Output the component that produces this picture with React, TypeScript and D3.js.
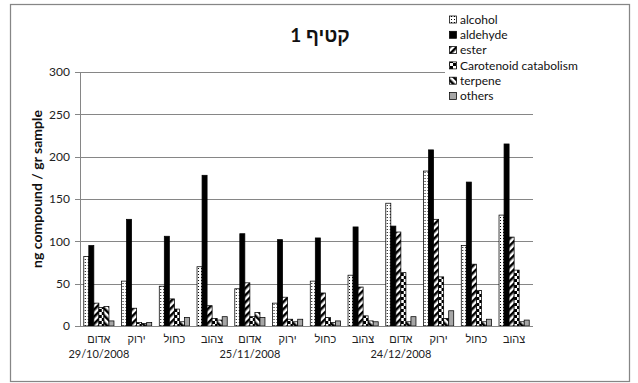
import React from "react";
import * as d3 from "d3";

// Category labels (colour names) and harvest dates
const categories = ["אדום", "ירוק", "כחול", "צהוב", "אדום", "ירוק", "כחול", "צהוב", "אדום", "ירוק", "כחול", "צהוב"];
const dateLabels = ["29/10/2008", "", "", "", "25/11/2008", "", "", "", "24/12/2008", "", "", ""];

// Series values, ng compound / gr sample
const seriesNames = ["alcohol", "aldehyde", "ester", "Carotenoid catabolism", "terpene", "others"];
const alcohol = [82, 53, 47, 70, 44, 27, 53, 60, 145, 183, 95, 131];
const aldehyde = [95, 126, 106, 178, 109, 102, 104, 117, 118, 208, 170, 215];
const ester = [27, 21, 32, 24, 51, 34, 39, 46, 111, 126, 73, 105];
const carotenoid = [22, 4, 20, 9, 11, 8, 10, 12, 63, 58, 42, 66];
const terpene = [23, 3, 5, 7, 16, 5, 4, 6, 5, 9, 5, 5];
const others = [6, 4, 10, 11, 10, 8, 6, 5, 11, 18, 8, 7];

const yTicks = [0, 50, 100, 150, 200, 250, 300];

const seriesValues = [alcohol, aldehyde, ester, carotenoid, terpene, others];
const fills = ["url(#pDots)", "#000", "url(#pUp)", "url(#pCheck)", "url(#pDown)", "#a6a6a6"];

const W = 638;
const H = 383;
const plot = { left: 80, right: 533, top: 72, bottom: 326 };
const font = "Lato, 'Liberation Sans', sans-serif";

export default function App() {
  const x0 = d3
    .scaleBand<number>()
    .domain(d3.range(categories.length))
    .range([plot.left, plot.right])
    .paddingInner(0.2)
    .paddingOuter(0.1);
  const x1 = d3
    .scaleBand<number>()
    .domain(d3.range(seriesNames.length))
    .range([0, x0.bandwidth()]);
  const y = d3.scaleLinear().domain([0, 300]).range([plot.bottom, plot.top]);

  const legendX = 449;
  const legendY0 = 19.5;
  const legendStep = 15.3;

  return (
    <div style={{ position: "absolute", left: 0, top: 0 }}>
      <svg width={W} height={H} style={{ display: "block", fontFamily: font }}>
        <defs>
          <pattern id="pDots" width="3" height="3" patternUnits="userSpaceOnUse">
            <rect width="3" height="3" fill="#fff" />
            <rect x="1" y="1" width="1" height="1" fill="#000" />
          </pattern>
          <pattern id="pUp" width="5" height="5" patternUnits="userSpaceOnUse" patternTransform="rotate(45)">
            <rect width="5" height="5" fill="#fff" />
            <rect width="2.5" height="5" fill="#000" />
          </pattern>
          <pattern id="pDown" width="5" height="5" patternUnits="userSpaceOnUse" patternTransform="rotate(-45)">
            <rect width="5" height="5" fill="#fff" />
            <rect width="2.5" height="5" fill="#000" />
          </pattern>
          <pattern id="pCheck" width="6" height="6" patternUnits="userSpaceOnUse">
            <rect width="6" height="6" fill="#fff" />
            <rect width="3" height="3" fill="#000" />
            <rect x="3" y="3" width="3" height="3" fill="#000" />
          </pattern>
        </defs>

        <rect x={0} y={0} width={W} height={H} fill="#fff" />
        <rect x={10.5} y={4.5} width={619} height={377} fill="#fff" stroke="#868686" strokeWidth={1.25} />

        {/* gridlines */}
        {yTicks.slice(1).map((t) => (
          <line key={t} x1={plot.left} x2={plot.right} y1={Math.round(y(t)) + 0.5} y2={Math.round(y(t)) + 0.5} stroke="#868686" strokeWidth={1} />
        ))}

        {/* bars */}
        {categories.map((_, i) => (
          <g key={i} transform={`translate(${x0(i)},0)`}>
            {seriesValues.map((vals, s) => (
              <rect
                key={s}
                x={x1(s)}
                y={y(vals[i])}
                width={x1.bandwidth()}
                height={y(0) - y(vals[i])}
                fill={fills[s]}
                stroke="#000"
                strokeWidth={0.75}
              />
            ))}
          </g>
        ))}

        {/* axes */}
        <line x1={plot.left + 0.5} x2={plot.left + 0.5} y1={plot.top} y2={plot.bottom} stroke="#868686" />
        <line x1={plot.left} x2={plot.right} y1={plot.bottom + 0.5} y2={plot.bottom + 0.5} stroke="#868686" />
        {yTicks.map((t) => (
          <g key={t}>
            <line x1={plot.left - 5} x2={plot.left} y1={Math.round(y(t)) + 0.5} y2={Math.round(y(t)) + 0.5} stroke="#868686" />
            <text x={plot.left - 10} y={y(t)} dy="0.35em" textAnchor="end" fontSize={12} fill="#222">
              {t}
            </text>
          </g>
        ))}
        {categories.map((c, i) => {
          const cx = (x0(i) as number) + x0.bandwidth() / 2;
          return (
            <g key={i}>
              <text x={cx} y={343} textAnchor="middle" fontSize={11} fill="#222" direction="rtl">
                {c}
              </text>
              {dateLabels[i] && (
                <text x={cx} y={358} textAnchor="middle" fontSize={11} fill="#222">
                  {dateLabels[i]}
                </text>
              )}
            </g>
          );
        })}

        {/* y-axis title */}
        <text
          transform={`translate(37,${(plot.top + plot.bottom) / 2 - 10}) rotate(-90)`}
          textAnchor="middle"
          dy="0.35em"
          fontSize={14}
          fontWeight="bold"
          fill="#111"
        >
          ng compound / gr sample
        </text>

        {/* title */}
        <text x={320} y={35} dy="0.35em" textAnchor="middle" fontSize={19} fontWeight="bold" fill="#111">
          קטיף 1
        </text>

        {/* legend */}
        <rect x={445} y={10} width={180} height={95} fill="#fff" />
        {seriesNames.map((n, s) => {
          const cy = legendY0 + legendStep * s;
          return (
            <g key={n}>
              <rect x={legendX + 0.5} y={cy - 3.5} width={7} height={7} fill={fills[s]} stroke="#000" strokeWidth={0.75} />
              <text x={legendX + 11} y={cy} dy="0.35em" fontSize={12} fill="#111">
                {n}
              </text>
            </g>
          );
        })}
      </svg>
    </div>
  );
}
